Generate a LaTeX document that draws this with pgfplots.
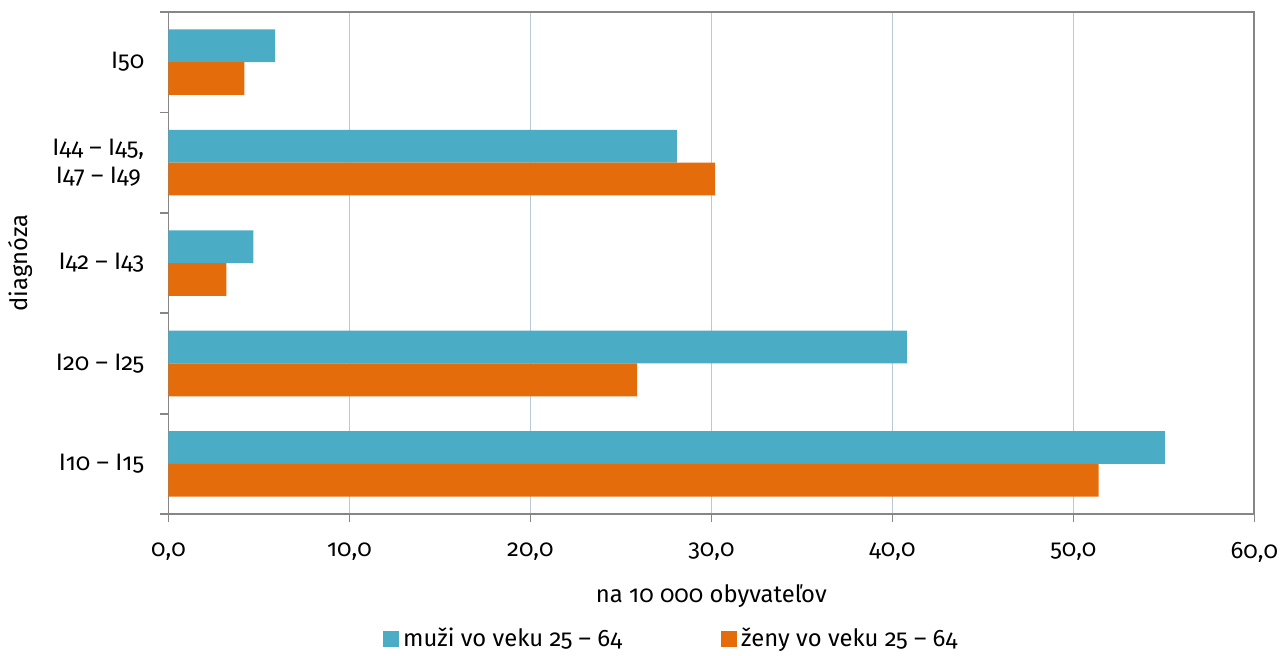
\documentclass[border=0pt]{standalone}
\usepackage{fontspec}
\setmainfont{Fira Sans}[Numbers=OldStyle]
\usepackage{pgfplots}
\pgfplotsset{compat=1.18}

\definecolor{muzi}{HTML}{4BACC6}
\definecolor{zeny}{HTML}{E46C0A}
\definecolor{axisgray}{HTML}{868686}
\definecolor{gridblue}{HTML}{B9C9DA}

\begin{document}
\fontsize{12}{14}\selectfont
\begin{tikzpicture}
\begin{axis}[
  scale only axis,
  width=547pt, height=253pt,
  xbar, bar width=16.5pt,
  xmin=0, xmax=60,
  ymin=-0.5, ymax=4.5,
  xtick={0,10,...,60},
  ytick={0,1,2,3,4},
  yticklabels={I10 – I15, I20 – I25, I42 – I43, {I44 – I45,\\I47 – I49}, I50},
  minor ytick={-0.5,0.5,...,4.5},
  xtick pos=bottom, ytick pos=left,
  major y tick style={draw=none},
  minor y tick style={axisgray, line width=0.8pt},
  minor tick length=4pt,
  major tick length=4pt,
  tick align=outside,
  x tick style={axisgray, line width=0.8pt},
  xmajorgrids,
  major x grid style={gridblue, line width=0.6pt},
  axis line style={axisgray, line width=0.9pt},
  yticklabel style={align=center, xshift=-4pt},
  xticklabel style={yshift=-6pt},
  xticklabel={\pgfmathprintnumber[fixed, fixed zerofill, precision=1, use comma, assume math mode=true]{\tick}},
  xlabel={na 10 000 obyvateľov},
  xlabel style={yshift=-3pt},
  ylabel={diagnóza},
  ylabel style={yshift=2pt},
  legend columns=2,
  legend style={at={(0.464,-0.248)}, anchor=center, draw=none, inner sep=1pt,
    /tikz/every even column/.append style={column sep=48pt}},
  legend image code/.code={\fill[#1] (0pt,-4pt) rectangle (8pt,4pt);},
]
\addplot[fill=muzi, draw=none, bar shift=8.25pt]
  coordinates {(55.05,0) (40.8,1) (4.7,2) (28.1,3) (5.9,4)};
\addlegendentry{muži vo veku 25 – 64}
\addplot[fill=zeny, draw=none, bar shift=-8.25pt]
  coordinates {(51.4,0) (25.9,1) (3.2,2) (30.2,3) (4.2,4)};
\addlegendentry{ženy vo veku 25 – 64}
\end{axis}
\path ([yshift=6pt]current axis.north);
\end{tikzpicture}
\end{document}
